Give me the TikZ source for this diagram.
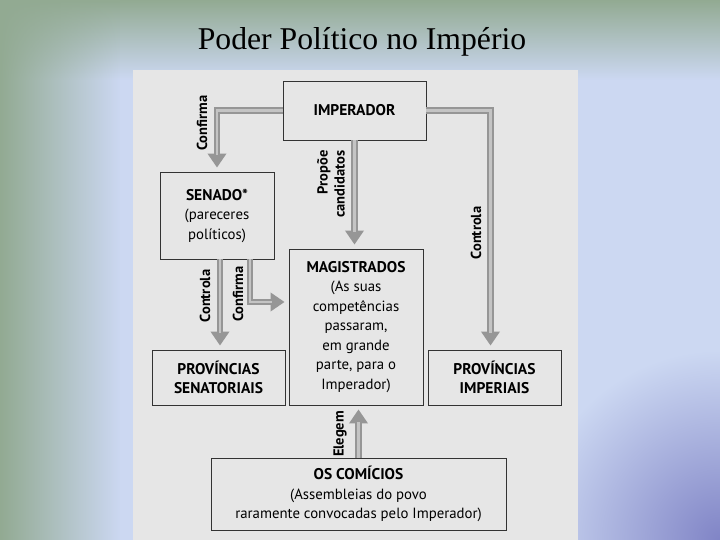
\documentclass[tikz,border=0pt]{standalone}
\usepackage{fontspec}
\setmainfont{Liberation Serif}
\setsansfont{PT Sans}
\usetikzlibrary{arrows.meta,fadings}
\definecolor{bgGreen}{RGB}{146,170,146}
\definecolor{bgBlue}{RGB}{204,216,242}
\definecolor{bgPurple}{RGB}{128,132,198}
\definecolor{panel}{RGB}{230,230,230}
\definecolor{arrowGray}{RGB}{150,150,150}
\definecolor{arrowLight}{RGB}{196,196,196}
\newcommand{\hd}[1]{{\fontsize{15.5}{19.5}\selectfont\bfseries #1}}
\tikzset{%
  tipF/.tip={Triangle[length=14pt,width=18pt]},
  box/.style={draw=black!80, line width=0.8pt, fill=panel, inner sep=0pt, align=center,
    font=\sffamily\fontsize{14.8}{19.5}\selectfont},
  flow/.style={draw=arrowGray, line width=6.5pt, -tipF, shorten >=4pt},
  flowin/.style={draw=arrowLight, line width=2.5pt, shorten >=17pt},
  lbl/.style={rotate=90, inner sep=0pt, font=\sffamily\bfseries\fontsize{14.5}{17}\selectfont}
}

\begin{document}
\begin{tikzpicture}[x=1pt,y=-1pt]
\useasboundingbox (0,0) rectangle (720,540);
\fill[bgBlue] (0,0) rectangle (720,540);
\fill[top color=bgGreen, bottom color=bgBlue] (0,0) rectangle (720,80);
\fill[bgGreen, path fading=east] (0,0) rectangle (120,540);
\shade[inner color=bgPurple, outer color=bgBlue] (720,540) circle (190);
\fill[panel] (133,70) rectangle (578,540);
\node[anchor=base] (title) at (362,50) {\fontsize{31.7}{36}\selectfont Poder Político no Império};
% caixas
\node[box, minimum width=143pt, minimum height=59pt] (imp) at (354.5,110.5) {\hd{IMPERADOR}};
\node[box, minimum width=114pt, minimum height=87pt] (sen) at (217,215.5) {\hd{SENADO*}\\(pareceres\\políticos)};
\node[box, minimum width=134pt, minimum height=156pt] (mag) at (356,327) {\hd{MAGISTRADOS}\\(As suas\\competências\\passaram,\\em grande\\parte, para o\\Imperador)};
\node[box, minimum width=133pt, minimum height=55pt] (ps) at (218.5,377.5) {\hd{PROVÍNCIAS}\\\hd{SENATORIAIS}};
\node[box, minimum width=133pt, minimum height=55pt] (pi) at (494.5,377.5) {\hd{PROVÍNCIAS}\\\hd{IMPERIAIS}};
\node[box, minimum width=295pt, minimum height=72pt] (com) at (358.5,494) {\hd{OS COMÍCIOS}\\(Assembleias do povo\\raramente convocadas pelo Imperador)};
% setas
\draw[flow] (imp.west) -| (sen.north);
\draw[flow] (imp.east) -| ([xshift=-4pt]pi.north);
\draw[flow] (imp.south) -- (imp.south |- mag.north);
\draw[flow] ([xshift=3pt]sen.south) -- ([xshift=3pt]sen.south |- ps.north);
\draw[flow] ([xshift=33pt]sen.south) |- ([yshift=25pt]mag.west);
\draw[flow] (com.north) -- (com.north |- mag.south);
\draw[flowin] (imp.west) -| (sen.north);
\draw[flowin] (imp.east) -| ([xshift=-4pt]pi.north);
\draw[flowin] (imp.south) -- (imp.south |- mag.north);
\draw[flowin] ([xshift=3pt]sen.south) -- ([xshift=3pt]sen.south |- ps.north);
\draw[flowin] ([xshift=33pt]sen.south) |- ([yshift=25pt]mag.west);
\draw[flowin] (com.north) -- (com.north |- mag.south);
\node[lbl] (lConf1) at (202,123) {Confirma};
\node[lbl, align=right] (lProp) at (331,184) {Propõe\\candidatos};
\node[lbl] (lCont1) at (476,233) {Controla};
\node[lbl] (lCont2) at (205,296) {Controla};
\node[lbl] (lConf2) at (238,294) {Confirma};
\node[lbl] (lEleg) at (340,434) {Elegem};
\end{tikzpicture}
\end{document}
